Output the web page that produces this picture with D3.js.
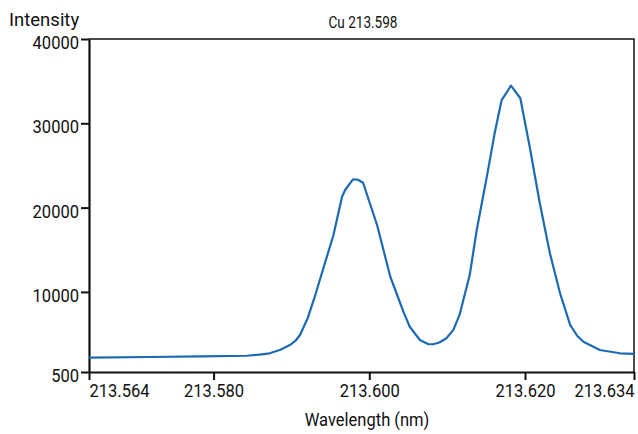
<!DOCTYPE html>
<html>
<head>
<meta charset="utf-8">
<script src="https://cdnjs.cloudflare.com/ajax/libs/d3/7.8.5/d3.min.js"></script>
<style>
body { margin: 0; background: #fff; }
text { font-family: Roboto, "Liberation Sans", sans-serif; fill: #111; }
</style>
</head>
<body>
<script>
//wavelength (nm) and intensity values
var wavelength = [213.5640, 213.5718, 213.5783, 213.5843, 213.5859, 213.5872, 213.5885, 213.5898, 213.5905,
  213.5911, 213.5921, 213.5930, 213.5941, 213.5954, 213.5965, 213.5969, 213.5979, 213.5986, 213.5992,
  213.6010, 213.6027, 213.6035, 213.6044, 213.6052, 213.6065, 213.6076, 213.6082, 213.6090, 213.6099,
  213.6108, 213.6116, 213.6129, 213.6138, 213.6151, 213.6161, 213.6170, 213.6182, 213.6194, 213.6206,
  213.6219, 213.6232, 213.6245, 213.6258, 213.6267, 213.6275, 213.6296, 213.6322, 213.6340];
var intensity = [2200, 2280, 2360, 2430, 2560, 2720, 3110, 3700, 4180,
  4890, 6910, 9430, 12800, 16750, 21290, 22090, 23360, 23280, 22950,
  17940, 11800, 9840, 7600, 5870, 4300, 3790, 3790, 4000, 4500,
  5500, 7300, 12000, 17340, 23670, 28810, 32760, 34460, 32970, 27230,
  20510, 14580, 9840, 6080, 4800, 4090, 3110, 2720, 2640];

//tick labels for both axes
var xTicks = [213.564, 213.580, 213.600, 213.620, 213.634];
var yTicks = [500, 10000, 20000, 30000, 40000];

var chartTitle = "Cu 213.598";
var xTitle = "Wavelength (nm)";
var yTitle = "Intensity";

var width = 638;
var height = 434;
var margin = {top: 39, right: 4, bottom: 62, left: 89};

//the reference uses a condensed face, so texts get squeezed sideways
var narrow = 0.87;
function squeeze(sel, k) {
  sel.each(function() {
    var t = d3.select(this);
    var tx = +t.attr("x") || 0;
    t.attr("x", tx / k).attr("transform", "scale(" + k + ",1)");
  });
}

var svg = d3.select("body").append("svg")
  .attr("width", width)
  .attr("height", height);

//scales for wavelength and intensity
var x = d3.scaleLinear()
  .domain([213.564, 213.634])
  .range([margin.left, width - margin.right]);

var y = d3.scaleLinear()
  .domain([500, 40000])
  .range([height - margin.bottom, margin.top]);

//frame on top and right side of the plot
svg.append("path")
  .attr("d", "M" + x.range()[0] + "," + y.range()[1] + "H" + x.range()[1] + "V" + y.range()[0])
  .attr("fill", "none")
  .attr("stroke", "#111")
  .attr("stroke-width", 1.5);

//x axis
var xAxis = svg.append("g")
  .attr("transform", "translate(0," + (height - margin.bottom) + ")")
  .call(d3.axisBottom(x).tickValues(xTicks).tickFormat(d3.format(".3f")).tickSize(8).tickSizeOuter(0).tickPadding(4));

//y axis
var yAxis = svg.append("g")
  .attr("transform", "translate(" + margin.left + ",0)")
  .call(d3.axisLeft(y).tickValues(yTicks).tickFormat(d3.format("d")).tickSize(8).tickSizeOuter(0).tickPadding(2));

[xAxis, yAxis].forEach(function(a) {
  a.attr("font-family", null).attr("font-size", null);
  a.select(".domain").attr("stroke", "#111").attr("stroke-width", 2.2);
  a.selectAll(".tick line").attr("stroke", "#111").attr("stroke-width", 2);
  a.selectAll(".tick text").attr("font-size", 19).attr("fill", "#111");
});
yAxis.selectAll(".tick text").attr("dy", "0.5em");

//first and last wavelength labels sit inside the axis ends
xAxis.selectAll(".tick text")
  .attr("text-anchor", function(d, i) { return i == 0 ? "start" : (i == xTicks.length - 1 ? "end" : "middle"); });

squeeze(xAxis.selectAll(".tick text"), narrow);
squeeze(yAxis.selectAll(".tick text"), narrow);

//the spectrum line
var line = d3.line()
  .x(function(d, i) { return x(wavelength[i]); })
  .y(function(d) { return y(d); });

svg.append("path")
  .datum(intensity)
  .attr("d", line)
  .attr("fill", "none")
  .attr("stroke", "#1b6ab4")
  .attr("stroke-width", 2.2)
  .attr("stroke-linejoin", "round");

//titles
svg.append("text")
  .attr("x", 363)
  .attr("y", 28)
  .attr("text-anchor", "middle")
  .attr("font-size", 15.6)
  .text(chartTitle)
  .call(squeeze, narrow);

svg.append("text")
  .attr("x", 9)
  .attr("y", 26)
  .attr("font-size", 18.5)
  .text(yTitle);

svg.append("text")
  .attr("x", 367)
  .attr("y", 426)
  .attr("text-anchor", "middle")
  .attr("font-size", 19)
  .text(xTitle)
  .call(squeeze, narrow);
</script>
</body>
</html>
